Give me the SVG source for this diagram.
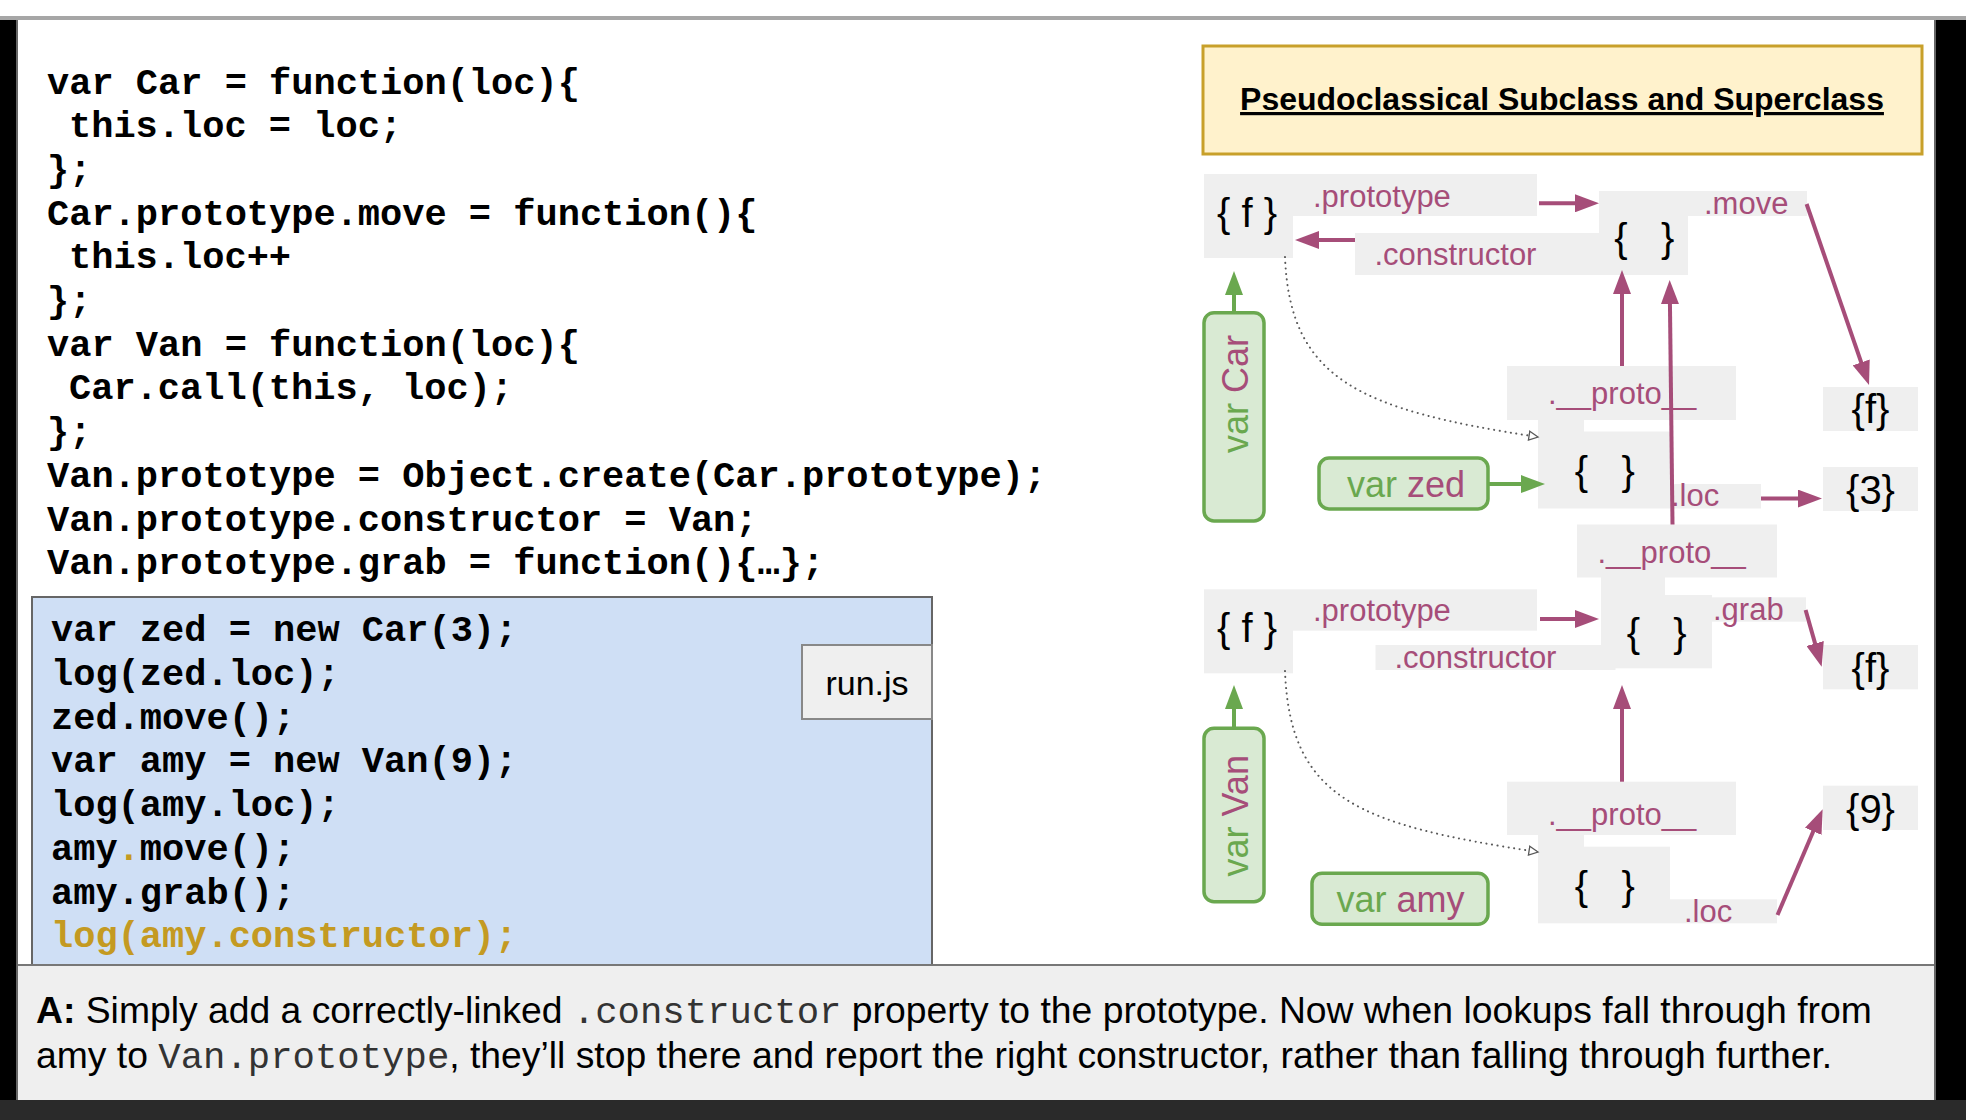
<svg xmlns="http://www.w3.org/2000/svg" width="1966" height="1120" viewBox="0 0 1966 1120">
<style>
.code{font-family:"Liberation Mono","Courier New",monospace;font-weight:bold;font-size:37px;fill:#000}
.gold{fill:#c49a22}
.lbl{font-family:"Liberation Sans",Arial,sans-serif;font-size:31px;fill:#a64d79}
.br{font-family:"Liberation Sans",Arial,sans-serif;font-size:40px;fill:#000}
.pre{white-space:pre}
.box{fill:#efefef}
.var{fill:#d9ead3;stroke:#6aa84f;stroke-width:3.5}
.vt{font-family:"Liberation Sans",Arial,sans-serif;font-size:36px}
.g{fill:#6aa84f}
.p{fill:#a64d79}
.pa{stroke:#a64d79;stroke-width:4;fill:none;marker-end:url(#ap)}
.ga{stroke:#6aa84f;stroke-width:4;fill:none;marker-end:url(#ag)}
.dot{stroke:#595959;stroke-width:2;stroke-dasharray:0.1 5.5;stroke-linecap:round;fill:none;marker-end:url(#ao)}
.cap{font-family:"Liberation Sans",Arial,sans-serif;font-size:37.3px;fill:#000}
.mono{font-family:"Liberation Mono","Courier New",monospace;fill:#333}
</style>
<defs>
<marker id="ap" viewBox="0 0 24 18" refX="4" refY="9" markerWidth="24" markerHeight="18" markerUnits="userSpaceOnUse" orient="auto"><path d="M0,0 L24,9 L0,18 z" fill="#a64d79"/></marker>
<marker id="ag" viewBox="0 0 24 18" refX="4" refY="9" markerWidth="24" markerHeight="18" markerUnits="userSpaceOnUse" orient="auto"><path d="M0,0 L24,9 L0,18 z" fill="#6aa84f"/></marker>
<marker id="ao" viewBox="0 0 12 12" refX="10" refY="6" markerWidth="12" markerHeight="12" markerUnits="userSpaceOnUse" orient="auto"><path d="M1,1.5 L10,6 L1,10.5 z" fill="#fff" stroke="#595959" stroke-width="1.3"/></marker>
</defs>

<!-- frame -->
<rect x="0" y="0" width="1966" height="1120" fill="#fff"/>
<rect x="0" y="16" width="1966" height="4" fill="#a6a6a6"/>
<rect x="0" y="20" width="16" height="1080" fill="#000"/>
<rect x="16" y="20" width="2" height="1080" fill="#666"/>
<rect x="1936" y="20" width="30" height="1080" fill="#000"/>
<rect x="1934" y="20" width="2" height="1080" fill="#666"/>

<!-- main code -->
<g id="code">
<text class="code" x="47" y="93.5">var Car = function(loc){</text>
<text class="code" x="69" y="137.2">this.loc = loc;</text>
<text class="code" x="47" y="180.9">};</text>
<text class="code" x="47" y="224.6">Car.prototype.move = function(){</text>
<text class="code" x="69" y="268.3">this.loc++</text>
<text class="code" x="47" y="312">};</text>
<text class="code" x="47" y="355.7">var Van = function(loc){</text>
<text class="code" x="69" y="399.4">Car.call(this, loc);</text>
<text class="code" x="47" y="443.1">};</text>
<text class="code" x="47" y="486.8">Van.prototype = Object.create(Car.prototype);</text>
<text class="code" x="47" y="530.5">Van.prototype.constructor = Van;</text>
<text class="code" x="47" y="574.2">Van.prototype.grab = function(){…};</text>
</g>

<!-- run.js -->
<g id="runjs">
<rect x="32" y="597" width="900" height="368" fill="#cfdff5" stroke="#666" stroke-width="2"/>
<rect x="802" y="645" width="130" height="74" fill="#efefef" stroke="#888" stroke-width="2"/>
<text x="867" y="695" text-anchor="middle" font-family="Liberation Sans, Arial, sans-serif" font-size="34" fill="#000">run.js</text>
<text class="code" x="51" y="641">var zed = new Car(3);</text>
<text class="code" x="51" y="685">log(zed.loc);</text>
<text class="code" x="51" y="729">zed.move();</text>
<text class="code" x="51" y="772">var amy = new Van(9);</text>
<text class="code" x="51" y="816">log(amy.loc);</text>
<text class="code" x="51" y="860">amy<tspan class="gold">.</tspan>move();</text>
<text class="code" x="51" y="904">amy.grab();</text>
<text class="code gold" x="51" y="947">log(amy.constructor);</text>
</g>

<!-- caption -->
<g id="caption">
<rect x="18" y="965" width="1916" height="135" fill="#efefef"/>
<rect x="18" y="964" width="1916" height="2" fill="#777"/>
<text class="cap" x="36" y="1023"><tspan font-weight="bold">A:</tspan> Simply add a correctly-linked <tspan class="mono">.constructor</tspan> property to the prototype. Now when lookups fall through from</text>
<text class="cap" x="36" y="1068">amy to <tspan class="mono">Van.prototype</tspan>, they’ll stop there and report the right constructor, rather than falling through further.</text>
</g>
<rect x="0" y="1100" width="1966" height="20" fill="#2a2a2a"/>

<!-- title -->
<g id="title">
<rect x="1203" y="46" width="719" height="108" fill="#fff2cc" stroke="#c8a02a" stroke-width="3"/>
<text x="1562" y="110" text-anchor="middle" font-family="Liberation Sans, Arial, sans-serif" font-weight="bold" font-size="32" text-decoration="underline" fill="#000">Pseudoclassical Subclass and Superclass</text>
</g>

<!-- Car function -->
<g id="car-fn">
<rect class="box" x="1204" y="174" width="89" height="84"/>
<rect class="box" x="1293" y="174" width="244" height="42"/>
<text class="br pre" x="1247" y="226.5" text-anchor="middle">{ f }</text>
<text class="lbl" x="1313" y="206.5">.prototype</text>
</g>

<!-- Car.prototype -->
<g id="car-proto">
<rect class="box" x="1355" y="233" width="244" height="42"/>
<rect class="box" x="1599" y="191" width="89" height="84"/>
<rect class="box" x="1688" y="191" width="119" height="25"/>
<text class="br pre" x="1644.4" y="251.5" text-anchor="middle">{   }</text>
<text class="lbl" x="1704" y="214">.move</text>
<text class="lbl" x="1374.5" y="265">.constructor</text>
</g>

<g id="move-fn">
<rect class="box" x="1823" y="387" width="95" height="44"/>
<text class="br" x="1870.5" y="423" text-anchor="middle">{f}</text>
</g>

<g id="zed-obj">
<rect class="box" x="1507" y="366" width="229" height="54"/>
<rect class="box" x="1538" y="419" width="46" height="13"/>
<rect class="box" x="1538" y="431.5" width="132" height="77"/>
<rect class="box" x="1670" y="484" width="91" height="24.5"/>
<text class="lbl" x="1548" y="404">.__proto__</text>
<text class="br pre" x="1604.8" y="485" text-anchor="middle">{   }</text>
<text class="lbl" x="1671" y="506">.loc</text>
</g>

<g id="val3">
<rect class="box" x="1823" y="467" width="95" height="44"/>
<text class="br" x="1870.5" y="504" text-anchor="middle">{3}</text>
</g>

<g id="var-car">
<rect class="var" x="1204" y="312.7" width="60" height="208.3" rx="10"/>
<text class="vt" transform="translate(1248,394) rotate(-90)" text-anchor="middle"><tspan class="g">var</tspan> <tspan class="p">Car</tspan></text>
</g>

<g id="var-zed">
<rect class="var" x="1319" y="458" width="169" height="51" rx="10"/>
<text class="vt" x="1347" y="497"><tspan class="g">var</tspan> <tspan class="p">zed</tspan></text>
</g>

<!-- Van function -->
<g id="van-fn">
<rect class="box" x="1204" y="589.3" width="89" height="84"/>
<rect class="box" x="1293" y="589.3" width="244" height="41.4"/>
<text class="br pre" x="1247" y="641.5" text-anchor="middle">{ f }</text>
<text class="lbl" x="1313" y="621">.prototype</text>
</g>

<!-- Van.prototype -->
<g id="van-proto">
<rect class="box" x="1577" y="524.5" width="200" height="53"/>
<rect class="box" x="1601" y="577" width="64" height="19"/>
<rect class="box" x="1375.5" y="645" width="240" height="25"/>
<rect class="box" x="1601" y="595" width="111" height="73.3"/>
<rect class="box" x="1712" y="597.3" width="94" height="24.4"/>
<text class="lbl" x="1597.5" y="562.7">.__proto__</text>
<text class="br pre" x="1656.7" y="646.5" text-anchor="middle">{   }</text>
<text class="lbl" x="1713" y="620">.grab</text>
<text class="lbl" x="1394.5" y="667.7">.constructor</text>
</g>

<g id="grab-fn">
<rect class="box" x="1823" y="645" width="95" height="44.3"/>
<text class="br" x="1870.5" y="681.5" text-anchor="middle">{f}</text>
</g>

<g id="amy-obj">
<rect class="box" x="1507" y="781.7" width="229" height="53.3"/>
<rect class="box" x="1538" y="834.5" width="46" height="13"/>
<rect class="box" x="1538" y="846.7" width="132" height="76.6"/>
<rect class="box" x="1670" y="899.3" width="107" height="24"/>
<text class="lbl" x="1548" y="825">.__proto__</text>
<text class="br pre" x="1604.8" y="899.8" text-anchor="middle">{   }</text>
<text class="lbl" x="1684" y="921.7">.loc</text>
</g>

<g id="val9">
<rect class="box" x="1823" y="785.7" width="95" height="44.3"/>
<text class="br" x="1870.5" y="823.2" text-anchor="middle">{9}</text>
</g>

<g id="var-van">
<rect class="var" x="1204" y="728.3" width="60" height="173.4" rx="10"/>
<text class="vt" transform="translate(1248,815.8) rotate(-90)" text-anchor="middle"><tspan class="g">var</tspan> <tspan class="p">Van</tspan></text>
</g>

<g id="var-amy">
<rect class="var" x="1312" y="873.3" width="176" height="51" rx="10"/>
<text class="vt" x="1336.4" y="911.7"><tspan class="g">var</tspan> <tspan class="p">amy</tspan></text>
</g>

<!-- connectors -->
<g id="connectors">
<path class="pa" d="M1539,203.3 H1579"/>
<path class="pa" d="M1355,240 H1315"/>
<path class="pa" d="M1806.6,204 L1862.5,366.1"/>
<path class="pa" d="M1622,366 V290"/>
<path class="pa" d="M1672.5,524.5 L1669.9,300"/>
<path class="pa" d="M1761,498.6 H1802"/>
<path class="ga" d="M1488,484 H1525"/>
<path class="ga" d="M1234,312.7 V291"/>
<path class="pa" d="M1540,619 H1579"/>
<path class="pa" d="M1805.6,610 L1816.2,647.4"/>
<path class="pa" d="M1622,781.7 V705"/>
<path class="pa" d="M1777.5,915 L1814.8,827.7"/>
<path class="ga" d="M1234,728.3 V705"/>
<path class="dot" d="M1285,257 C1290,380 1360,410 1538,437"/>
<path class="dot" d="M1285,671 C1290,800 1360,825 1538,852"/>
</g>
</svg>
